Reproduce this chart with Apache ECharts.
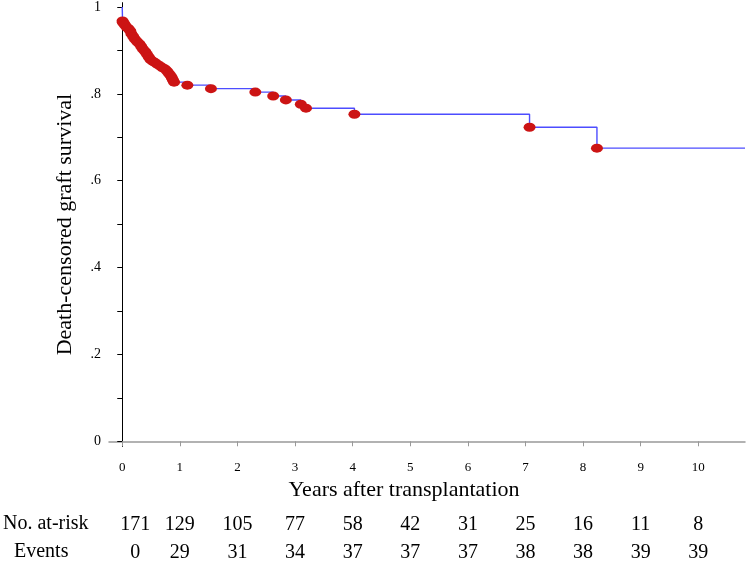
<!DOCTYPE html>
<html><head><meta charset="utf-8">
<script src="https://cdn.jsdelivr.net/npm/echarts@6/dist/echarts.min.js"></script>
<style>html,body{margin:0;padding:0;background:#fff}#c{width:747px;height:563px}</style>
</head><body><div id="c"></div>
<script>
// Kaplan-Meier censor / step points: [years, survival]
const kmPoints = [
  [0.005,0.968],[0.01,0.965],[0.03,0.962],[0.05,0.958],[0.08,0.953],[0.11,0.950],[0.14,0.945],
  [0.16,0.938],[0.19,0.932],[0.22,0.926],[0.26,0.920],[0.30,0.915],[0.33,0.909],[0.36,0.903],
  [0.40,0.897],[0.43,0.891],[0.46,0.885],[0.49,0.879],[0.53,0.875],[0.57,0.872],[0.61,0.868],
  [0.66,0.864],[0.70,0.860],[0.745,0.857],[0.78,0.852],[0.81,0.847],[0.84,0.842],[0.86,0.837],
  [0.88,0.832],[0.90,0.827],[1.13,0.820],[1.54,0.812],[2.31,0.804],[2.62,0.795],[2.84,0.786],
  [3.10,0.776],[3.19,0.767],[4.03,0.753],[7.07,0.723],[8.24,0.675]
];
const curveStart = [0, 1];
const curveEndYear = 10.81;
const yearTicks = [0,1,2,3,4,5,6,7,8,9,10];
const yLabelValues = [0,0.2,0.4,0.6,0.8,1];
const yTickValues = [0,0.1,0.2,0.3,0.4,0.5,0.6,0.7,0.8,0.9,1];
const atRisk = [171,129,105,77,58,42,31,25,16,11,8];
const eventsCount = [0,29,31,34,37,37,37,38,38,39,39];
const rowLabels = ['No. at-risk', 'Events'];

const FONT = "'Liberation Serif', 'DejaVu Serif', serif";
const lineData = [curveStart].concat(kmPoints).concat([[curveEndYear, kmPoints[kmPoints.length-1][1]]]);

const chart = echarts.init(document.getElementById('c'));
chart.setOption({
  animation: false,
  backgroundColor: '#fff',
  grid: { left: 109, right: 2, top: 2, height: 444.5 },
  xAxis: {
    type: 'value', min: -0.23, max: curveEndYear, offset: 6,
    name: 'Years after transplantation', nameLocation: 'middle', nameGap: 27,
    nameTextStyle: { fontFamily: FONT, fontSize: 22, color: '#000', padding: [0, 46, 0, 0] },
    axisLine: { show: true, lineStyle: { color: '#999', width: 1.5 } },
    axisTick: { show: true, customValues: yearTicks, length: 5, lineStyle: { color: '#999' } },
    axisLabel: { customValues: yearTicks, margin: 9, fontFamily: FONT, fontSize: 13, color: '#000' },
    splitLine: { show: false }
  },
  yAxis: {
    type: 'value', min: -0.012, max: 1.01,
    name: 'Death-censored graft survival', nameLocation: 'middle', nameGap: 33,
    nameTextStyle: { fontFamily: FONT, fontSize: 22, color: '#000' },
    axisLine: { show: true, lineStyle: { color: '#000', width: 1 } },
    axisTick: { show: true, customValues: yTickValues, length: 5, lineStyle: { color: '#000' } },
    axisLabel: {
      customValues: yLabelValues, margin: 8, fontFamily: FONT, fontSize: 14, color: '#000',
      formatter: v => (v === 0 || v === 1) ? String(v) : String(Math.round(v * 10) / 10).replace(/^0/, '')
    },
    splitLine: { show: false }
  },
  series: [
    {
      type: 'line', data: lineData, step: 'end', showSymbol: false, symbol: 'none',
      lineStyle: { color: '#4d4dff', width: 1.4 }, z: 2
    },
    {
      type: 'scatter', data: kmPoints, symbol: 'circle', symbolSize: [12, 9],
      itemStyle: { color: '#cc1414', opacity: 1 }, z: 3
    }
  ]
});

function drawTable() {
  const g = [];
  const rowY = [525, 553];
  const rows = [atRisk, eventsCount];
  rowLabels.forEach((lab, r) => {
    g.push({ type: 'text', left: r === 0 ? 3 : 14, top: rowY[r] - 11,
      style: { text: lab, font: "20px " + FONT, fill: '#000' } });
  });
  rows.forEach((vals, r) => {
    vals.forEach((v, i) => {
      const px = chart.convertToPixel({ xAxisIndex: 0 }, yearTicks[i]) + (i === 0 ? 13 : 0);
      g.push({ type: 'text', x: px, y: rowY[r],
        style: { text: String(v), font: "20px " + FONT, fill: '#000', align: 'center', verticalAlign: 'middle' } });
    });
  });
  chart.setOption({ graphic: g });
}
drawTable();
</script>
</body></html>
